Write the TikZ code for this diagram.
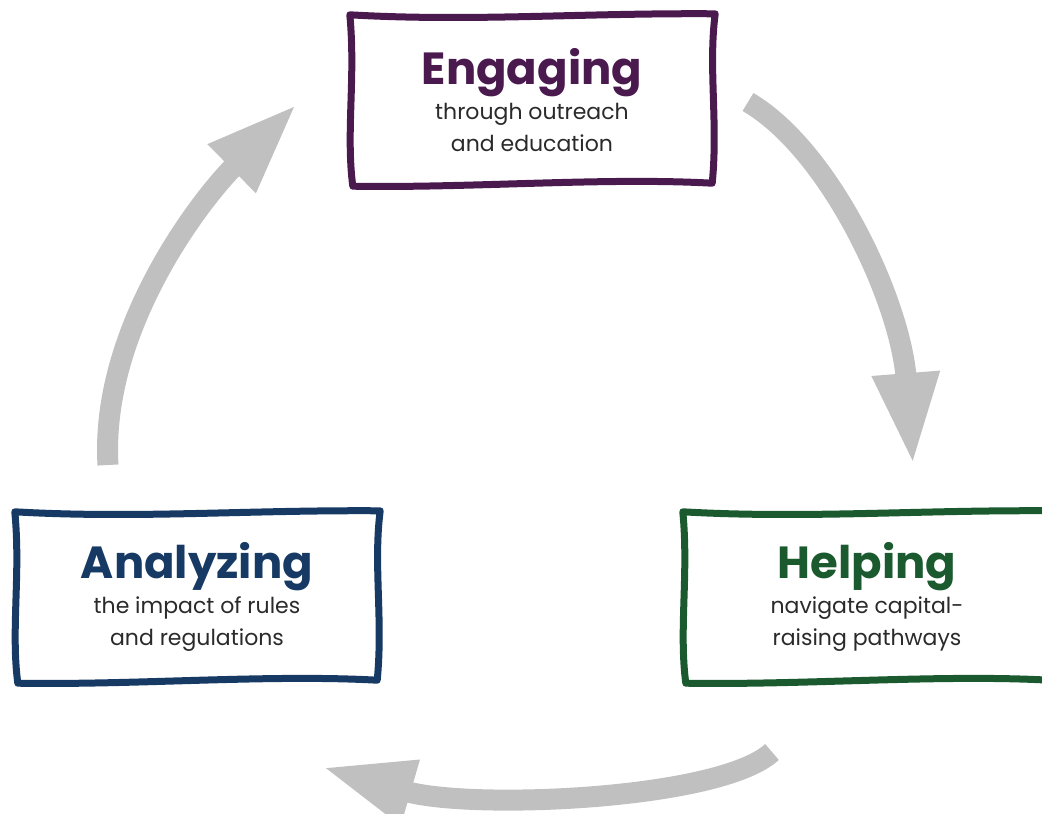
\documentclass[tikz,border=0pt]{standalone}
\usepackage{fontspec}
\setmainfont{Poppins}
\usetikzlibrary{arrows.meta}

\definecolor{engpurple}{HTML}{4A1A4F}
\definecolor{anablue}{HTML}{163A63}
\definecolor{helpgreen}{HTML}{1A5A2E}
\definecolor{arrgrey}{HTML}{C0C0C0}
\definecolor{txtgrey}{HTML}{2A2A2A}

\newcommand{\headline}[1]{{\fontsize{45}{48}\selectfont\bfseries #1}\\[3pt]}
% hand drawn frame round a node
\newcommand{\wobble}[2]{%
	\draw[frame=#2] ([shift={(-1,-2)}]#1.north west)
	.. controls ([shift={(120,5)}]#1.north west) and ([shift={(-130,-4)}]#1.north east) .. ([shift={(2,-3)}]#1.north east)
	.. controls ([shift={(-5,50)}]#1.north east) and ([shift={(5,-60)}]#1.south east) .. ([shift={(-1,0)}]#1.south east)
	.. controls ([shift={(-110,-6)}]#1.south east) and ([shift={(120,5)}]#1.south west) .. ([shift={(2,3)}]#1.south west)
	.. controls ([shift={(-5,-50)}]#1.south west) and ([shift={(5,60)}]#1.north west) .. cycle;}

\begin{document}
\begin{tikzpicture}
[
	x=1pt,y=-1pt,
	box/.style={rectangle,minimum width=362,minimum height=166,inner sep=0,
		align=center,text=txtgrey,font=\fontsize{22}{32}\selectfont},
	frame/.style={draw=#1,line width=7,line join=round},
	arr/.style={draw=arrgrey,line width=21,-{Triangle[length=92pt,width=62pt]}}
]
\useasboundingbox (0,0) rectangle (1042,814);
\clip (0,0) rectangle (1042,814);

\node[box] (engage) at (532,100) {\headline{\color{engpurple}Engaging}through outreach\\and education};
\node[box] (analyze) at (197,597) {\headline{\color{anablue}Analyzing}the impact of rules\\and regulations};
\node[box,minimum width=366] (help) at (867,597) {\headline{\color{helpgreen}Helping}navigate capital-\\raising pathways};

\wobble{engage}{engpurple}
\wobble{analyze}{anablue}
\wobble{help}{helpgreen}

\coordinate (a1s) at (748,102);
\coordinate (a1e) at (913,465);
\coordinate (a2s) at (772,752);
\coordinate (a2e) at (322,767);
\coordinate (a3s) at (108,465);
\coordinate (a3e) at (297,104);

\draw[arr] (a1s) .. controls (830,150) and (900,300) .. (a1e);
\draw[arr] (a2s) .. controls (720,800) and (470,810) .. (a2e);
\draw[arr] (a3s) .. controls (100,330) and (200,200) .. (a3e);

\end{tikzpicture}
\end{document}
